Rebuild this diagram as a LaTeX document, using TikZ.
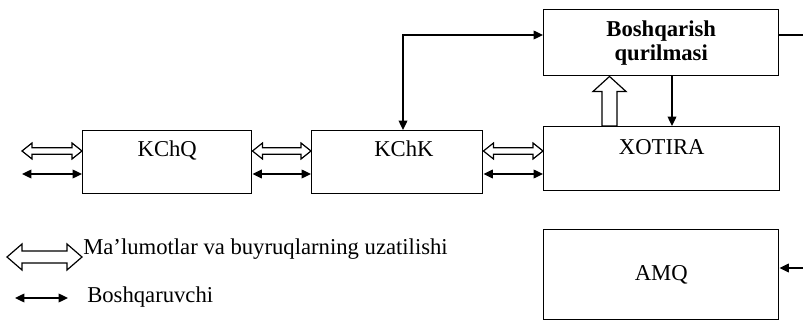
\documentclass[tikz,border=0pt]{standalone}
\usepackage{fontspec}
\setmainfont{Liberation Serif}
\usetikzlibrary{arrows.meta,calc,positioning}

% hollow double arrow between two points on one row
\newcommand{\wideconn}[2]{%
\draw[hollow] (#1) -- ++(10,-8) -- ++(0,4.7) -- ($(#2)+(-10,-3.3)$) -- ++(0,-4.7) -- (#2)
  -- ++(-10,8) -- ++(0,-4.7) -- ($(#1)+(10,3.3)$) -- ++(0,4.7) -- cycle;}

\begin{document}
\begin{tikzpicture}[x=0.75pt,y=-0.75pt,>={Triangle[length=7pt,width=6.5pt]},
  font=\fontsize{17}{19}\selectfont,
  blok/.style={draw,line width=1.1pt,inner sep=0pt,anchor=north west},
  blokname/.style={anchor=base,inner sep=0pt},
  hollow/.style={draw,line width=0.9pt,fill=white,line join=miter},
  ctrlline/.style={line width=1pt}]
\useasboundingbox (0,0) rectangle (803,324);

% blocks
\node[blok,minimum width=126.75pt,minimum height=47.25pt] (kchq) at (82,130) {};
\node[blok,minimum width=128.25pt,minimum height=47.25pt] (kchk) at (311,130) {};
\node[blok,minimum width=177pt,minimum height=48pt] (xot) at (543,126) {};
\node[blok,minimum width=176.25pt,minimum height=49.5pt,align=center,
  font=\fontsize{17}{18}\selectfont\bfseries] (bq) at (543,9) {Boshqarish\\qurilmasi};
\node[blok,minimum width=176.25pt,minimum height=67.5pt] (amq) at (543,229) {AMQ};

\node[blokname] (kchq-t) at ([yshift=-20.25pt]kchq.north) {KChQ};
\node[blokname] (kchk-t) at ([xshift=5pt,yshift=-20.25pt]kchk.north) {KChK};
\node[blokname] (xot-t) at ([yshift=-21.75pt]xot.north) {XOTIRA};

% rows of the links
\coordinate (dat) at (0,151);
\coordinate (upr) at (0,174);
\coordinate (inl) at (22,0);

\wideconn{inl |- dat}{kchq.west |- dat}
\wideconn{kchq.east |- dat}{kchk.west |- dat}
\wideconn{kchk.east |- dat}{xot.west |- dat}
\draw[ctrlline,<->] (inl |- upr) -- (kchq.west |- upr);
\draw[ctrlline,<->] (kchq.east |- upr) -- (kchk.west |- upr);
\draw[ctrlline,<->] (kchk.east |- upr) -- (xot.west |- upr);

% control unit links
\coordinate (ctl) at (403,35);
\coordinate (rt) at (803,35);
\coordinate (amqin) at (803,268);
\coordinate (dn) at (672,0);
\coordinate (up) at (609.5,0);
\draw[ctrlline,<->] (ctl |- kchk.north) -- (ctl) -- (bq.west |- ctl);
\draw[ctrlline] (bq.east |- rt) -- (rt);
\draw[ctrlline,->] (amqin) -- (amq.east |- amqin);
\draw[ctrlline,->] (dn |- bq.south) -- (dn |- xot.north);
\draw[hollow] (up |- bq.south) -- ++(16.5,15) -- ++(-9,0) -- ($(up |- xot.north)+(7.5,0)$)
  -- ++(-15,0) -- ($(up |- bq.south)+(-7.5,15)$) -- ++(-9,0) -- cycle;

% legend
\coordinate (lg1) at (7,257);
\coordinate (lg1e) at (82,257);
\coordinate (lg2) at (15,298);
\coordinate (lg2e) at (68,298);
\draw[hollow] (lg1) -- ++(15,-13) -- ++(0,7) -- ($(lg1e)+(-15,-6)$) -- ++(0,-7) -- (lg1e)
  -- ++(-15,13) -- ++(0,-7) -- ($(lg1)+(15,6)$) -- ++(0,7) -- cycle;
\node[anchor=base west,inner sep=0pt] (lg1-t) at (83,254) {Ma'lumotlar va buyruqlarning uzatilishi};
\draw[ctrlline,<->] (lg2) -- (lg2e);
\node[anchor=base west,inner sep=0pt] (lg2-t) at (87,302) {Boshqaruvchi};
\end{tikzpicture}
\end{document}
